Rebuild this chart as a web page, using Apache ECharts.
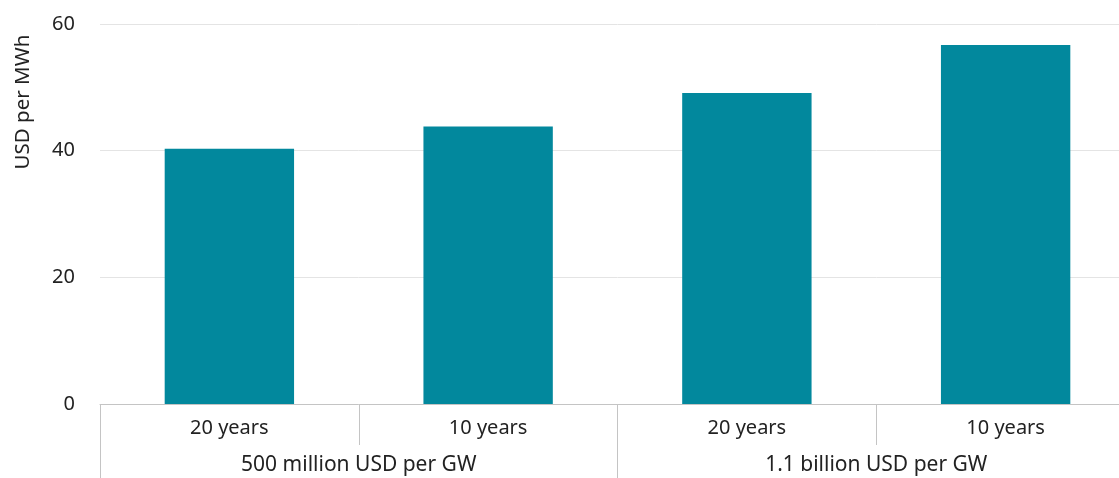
<!DOCTYPE html>
<html><head><meta charset="utf-8">
<script src="https://cdn.jsdelivr.net/npm/echarts@6/dist/echarts.min.js"></script>
<style>html,body{margin:0;padding:0;background:#fff;overflow:hidden}#c{width:1140px;height:478px}</style>
</head><body><div id="c"></div>
<script>
const categories = ['20 years', '10 years', '20 years', '10 years'];
const groups = ['500 million USD per GW', '1.1 billion USD per GW'];
const values = [40.3, 43.8, 49.1, 56.7];
const yTicks = [0, 20, 40, 60];
const yTitle = 'USD per MWh';

const FONT = '"Noto Sans", "Open Sans", sans-serif';
const chart = echarts.init(document.getElementById('c'), null, {renderer: 'canvas'});
chart.setOption({
  animation: false,
  grid: {left: 100, width: 1035, top: 24, bottom: 74, containLabel: false},
  xAxis: [{
    type: 'category', data: categories, position: 'bottom',
    axisLine: {show: true, lineStyle: {color: '#c4c4c4', width: 1}},
    axisTick: {show: true, length: 41, lineStyle: {color: '#c4c4c4'}},
    axisLabel: {fontFamily: FONT, fontSize: 20, color: '#222', margin: 14}
  }, {
    type: 'category', data: groups, position: 'bottom',
    axisLine: {show: false},
    axisTick: {show: true, length: 74, lineStyle: {color: '#c4c4c4'}},
    axisLabel: {fontFamily: FONT, fontSize: 21, color: '#222', margin: 51}
  }],
  yAxis: {
    type: 'value', min: yTicks[0], max: yTicks[yTicks.length - 1], interval: 20,
    axisLine: {show: false}, axisTick: {show: false},
    splitLine: {lineStyle: {color: '#e4e4e4', width: 1}},
    axisLabel: {fontFamily: FONT, fontSize: 20, color: '#222', margin: 25}
  },
  graphic: [{
    type: 'text', x: 23, y: 102, rotation: Math.PI / 2,
    style: {text: yTitle, font: '20.5px ' + FONT, fill: '#222', align: 'center', verticalAlign: 'middle'}
  }],
  series: [{
    type: 'bar', data: values, xAxisIndex: 0, barWidth: '50%',
    itemStyle: {color: '#02889d'}
  }]
});
</script></body></html>
